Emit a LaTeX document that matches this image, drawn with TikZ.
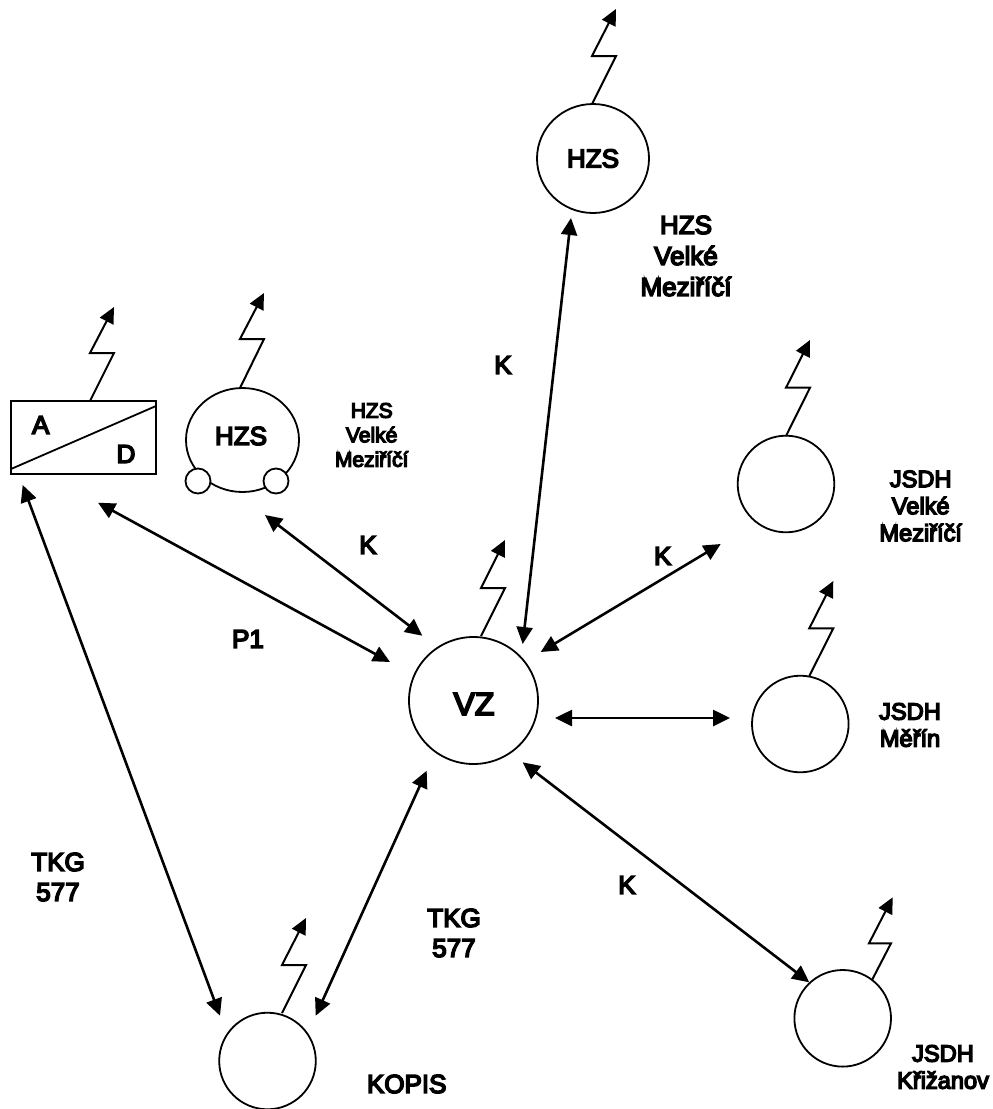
\documentclass[tikz,border=0pt]{standalone}
\usepackage{fontspec}
\setmainfont{Liberation Sans}
\newfontfamily\lblfont[FakeBold=6]{Liberation Sans}
\usetikzlibrary{arrows.meta,shapes.geometric}
\tikzset{
  x=1pt,y=-1pt,
  outline/.style={draw=black,line width=1.8pt,fill=white,inner sep=0pt,outer sep=0pt},
  station/.style={outline,circle,minimum size=96.6pt},
  twoway/.style={line width=2.6pt,{Triangle[length=17pt,width=16pt]}-{Triangle[length=17pt,width=16pt]}},
  bolt/.style={line width=2pt,-{Triangle[length=16pt,width=15pt]},line join=miter},
  txt/.style={inner sep=0pt,outer sep=0pt,align=center,text=black},
  lbl/.style={txt,font=\lblfont\fontsize{26}{30}\selectfont},
  lbs/.style={txt,font=\lblfont\fontsize{21}{24.5}\selectfont},
  lbm/.style={txt,font=\lblfont\fontsize{23.6}{27}\selectfont},
  lbt/.style={txt,font=\lblfont\fontsize{26}{31}\selectfont},
}
\begin{document}
\begin{tikzpicture}
\useasboundingbox (0,0) rectangle (993,1109);
% stations
\node[outline,ellipse,minimum width=113pt,minimum height=104pt] (hzsb) at (242.5,440) {};
\node[outline,circle,minimum size=25pt] (wl) at (198,481) {};
\node[outline,circle,minimum size=25pt] (wr) at (276,481) {};
\node[outline,ellipse,minimum width=112pt,minimum height=109pt,font=\lblfont\fontsize{26}{30}\selectfont] (hzst) at (593,158.5) {HZS};
\node[outline,ellipse,minimum width=129pt,minimum height=127pt,font=\lblfont\fontsize{32}{36}\selectfont] (vz) at (473.5,700.5) {};
\node[txt,font=\lblfont\fontsize{32}{36}\selectfont] (vzt) at (474,704) {VZ};
\node[station] (jvm) at (786,484) {};
\node[station] (jme) at (800.3,724) {};
\node[station] (jkr) at (842.7,1018.3) {};
\node[station] (kop) at (267.5,1061) {};
\node[outline,rectangle,minimum width=145pt,minimum height=73pt] (ad) at (83.5,437.5) {};
\coordinate (adl) at (11,469);
\coordinate (adr) at (156,406);
\draw[line width=1.8pt] (adl) -- (adr);
% bolts
\coordinate (b1s) at (592,104);   \coordinate (b1a) at (616,56);   \coordinate (b1b) at (592,56);   \coordinate (b1e) at (616,9);
\coordinate (b2s) at (240,388);   \coordinate (b2a) at (264,339);  \coordinate (b2b) at (240,339);  \coordinate (b2e) at (264,293);
\coordinate (b3s) at (90,401);    \coordinate (b3a) at (114,353);  \coordinate (b3b) at (90,353);   \coordinate (b3e) at (114,307);
\coordinate (b4s) at (481,636);   \coordinate (b4a) at (505,588);  \coordinate (b4b) at (481,588);  \coordinate (b4e) at (505,540);
\coordinate (b5s) at (786,436);   \coordinate (b5a) at (810,387.7);\coordinate (b5b) at (786,387.7);\coordinate (b5e) at (810,340);
\coordinate (b6s) at (809.3,676); \coordinate (b6a) at (833.3,628.3);\coordinate (b6b) at (809.3,628.3);\coordinate (b6e) at (833.3,581);
\coordinate (b7s) at (872,980);   \coordinate (b7a) at (891,943.3);\coordinate (b7b) at (869,943.3);\coordinate (b7e) at (892.7,897.3);
\coordinate (b8s) at (282,1013);  \coordinate (b8a) at (306,965);  \coordinate (b8b) at (282,965);  \coordinate (b8e) at (306,918);
\foreach \k in {1,...,8} \draw[bolt] (b\k s) -- (b\k a) -- (b\k b) -- (b\k e);
% connector ends
\coordinate (c1a) at (571,218);    \coordinate (c1b) at (522.7,644);
\coordinate (c2a) at (540.7,652);  \coordinate (c2b) at (720.7,544);
\coordinate (c3a) at (555,718);    \coordinate (c3b) at (730,718);
\coordinate (c4a) at (522.7,762.3);\coordinate (c4b) at (809.3,982.3);
\coordinate (c5a) at (426.7,770.7);\coordinate (c5b) at (315.7,1015.7);
\coordinate (c6a) at (22.7,485);   \coordinate (c6b) at (220,1015.7);
\coordinate (c7a) at (98,502.7);   \coordinate (c7b) at (390,662);
\coordinate (c8a) at (265,515);    \coordinate (c8b) at (422.3,635.7);
\foreach \k in {1,...,8} \draw[twoway] (c\k a) -- (c\k b);
% labels
\node[lbl] (ta) at (40.7,425) {A};
\node[lbl] (td) at (126,454) {D};
\node[lbl] (th) at (241,436) {HZS};
\node[lbs] (t1) at (371.7,435) {HZS\\Velké\\Meziříčí};
\node[lbt] (t2) at (686,256) {HZS\\Velké\\Meziříčí};
\node[lbm] (t3) at (920.7,506) {JSDH\\Velké\\Meziříčí};
\node[lbm] (t4) at (910,725) {JSDH\\Měřín};
\node[lbm] (t5) at (943,1067) {JSDH\\Křižanov};
\node[lbl] (t6) at (58,877) {TKG\\577};
\node[lbl] (t7) at (454,933) {TKG\\577};
\node[lbl] (t8) at (406.7,1084) {KOPIS};
\node[lbl] (k1) at (368,545) {K};
\node[lbl] (k2) at (503,365) {K};
\node[lbl] (k3) at (662.7,556) {K};
\node[lbl] (k4) at (627,885) {K};
\node[lbl] (p1) at (248,639) {P1};
\end{tikzpicture}
\end{document}
